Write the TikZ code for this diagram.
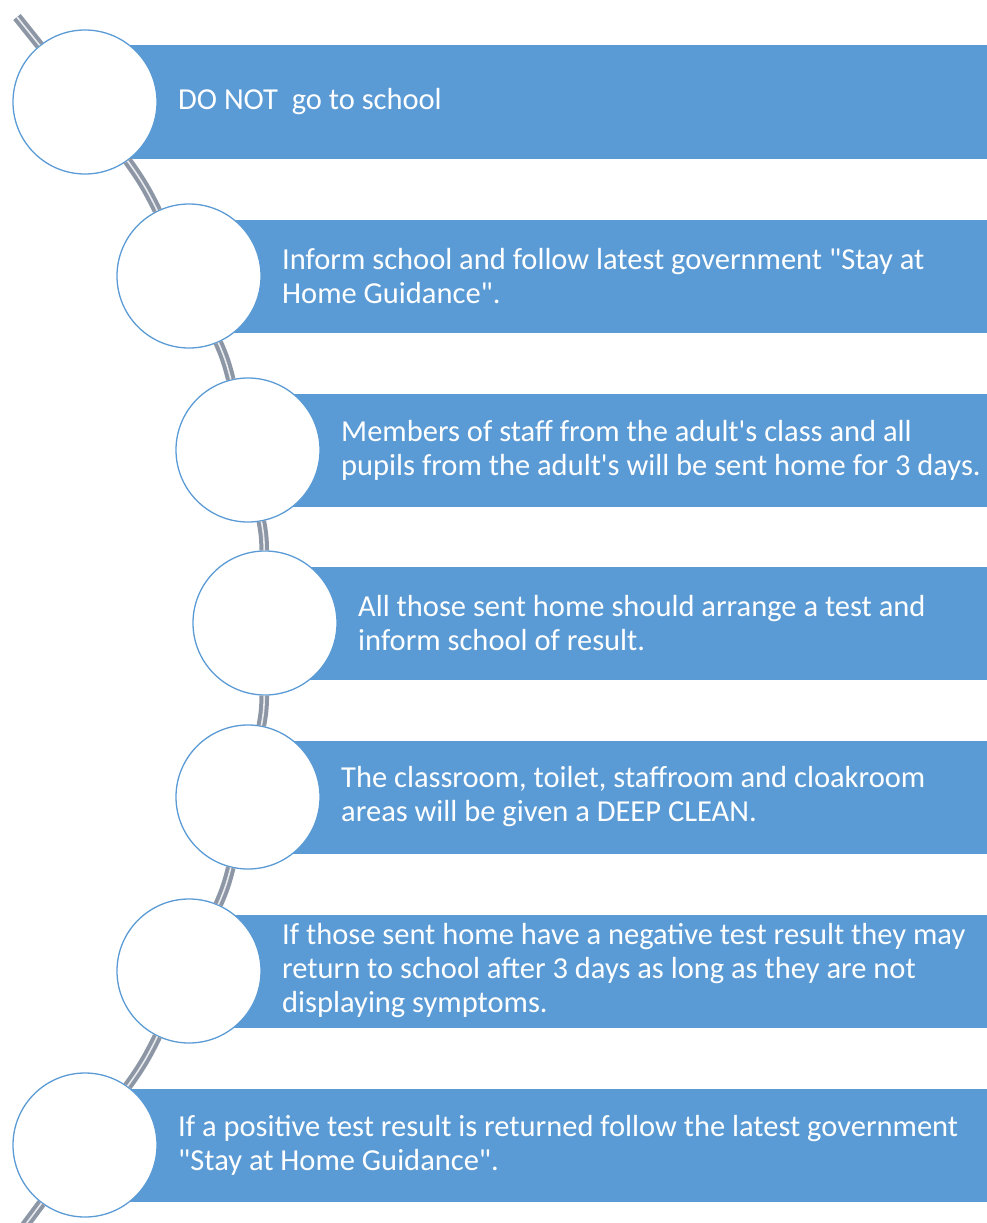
\documentclass[tikz,border=0pt]{standalone}
\usepackage{fontspec}
\setmainfont{Carlito}[Ligatures=TeXOff]
\usetikzlibrary{positioning}
\definecolor{boxblue}{RGB}{91,155,213}
\definecolor{ropegray}{RGB}{140,150,165}
\tikzset{
	bar/.style = {rectangle, fill=boxblue, draw=none, minimum width=920pt, minimum height=113pt, anchor=west, inner sep=0pt},
	ring/.style = {circle, fill=white, draw=boxblue, line width=1.3pt, minimum size=144pt, inner sep=0pt},
	label/.style = {anchor=west, text=white, align=left, inner sep=0pt, font=\fontsize{30.5}{34}\selectfont},
	rope/.style = {draw=ropegray, line width=4pt, double=white!80!ropegray, double distance=1.6pt}
}
\begin{document}
\begin{tikzpicture}[x=1pt, y=-1pt]
		\useasboundingbox (0,0) rectangle (987,1223);
		\coordinate (P1) at (85,102);
		\coordinate (P2) at (189,276);
		\coordinate (P3) at (248,450);
		\coordinate (P4) at (265,623);
		\coordinate (P5) at (248,797);
		\coordinate (P6) at (189,971);
		\coordinate (P7) at (85,1145);
		\coordinate (TopEnd) at (17,17);
		\coordinate (BottomEnd) at (14,1240);

		\node (Box01) [bar] at (P1) {};
		\node (Box02) [bar] at (P2) {};
		\node (Box03) [bar] at (P3) {};
		\node (Box04) [bar] at (P4) {};
		\node (Box05) [bar] at (P5) {};
		\node (Box06) [bar] at (P6) {};
		\node (Box07) [bar] at (P7) {};

		\node (Circle01) [ring] at (P1) {};
		\node (Circle02) [ring] at (P2) {};
		\node (Circle03) [ring] at (P3) {};
		\node (Circle04) [ring] at (P4) {};
		\node (Circle05) [ring] at (P5) {};
		\node (Circle06) [ring] at (P6) {};
		\node (Circle07) [ring] at (P7) {};

		\node (Text01) [label, right = 93pt of P1] {DO NOT~ go to school};
		\node (Text02) [label, right = 93pt of P2] {Inform school and follow latest government "Stay at\\Home Guidance".};
		\node (Text03) [label, right = 93pt of P3] {Members of staff from the adult's class and all\\pupils from the adult's will be sent home for 3 days.};
		\node (Text04) [label, right = 93pt of P4] {All those sent home should arrange a test and\\inform school of result.};
		\node (Text05) [label, right = 93pt of P5] {The classroom, toilet, staffroom and cloakroom\\areas will be given a DEEP CLEAN.};
		\node (Text06) [label, right = 93pt of P6] {If those sent home have a negative test result they may\\return to school after 3 days as long as they are not\\displaying symptoms.};
		\node (Text07) [label, right = 93pt of P7] {If a positive test result is returned follow the latest government\\"Stay at Home Guidance".};

		\draw [rope] (TopEnd) -- (Circle01);
		\draw [rope] (Circle01) to[bend left=5] (Circle02);
		\draw [rope] (Circle02) to[bend left=5] (Circle03);
		\draw [rope] (Circle03) to[bend left=5] (Circle04);
		\draw [rope] (Circle04) to[bend left=5] (Circle05);
		\draw [rope] (Circle05) to[bend left=5] (Circle06);
		\draw [rope] (Circle06) to[bend left=5] (Circle07);
		\draw [rope] (Circle07) -- (BottomEnd);
	\end{tikzpicture}
\end{document}
